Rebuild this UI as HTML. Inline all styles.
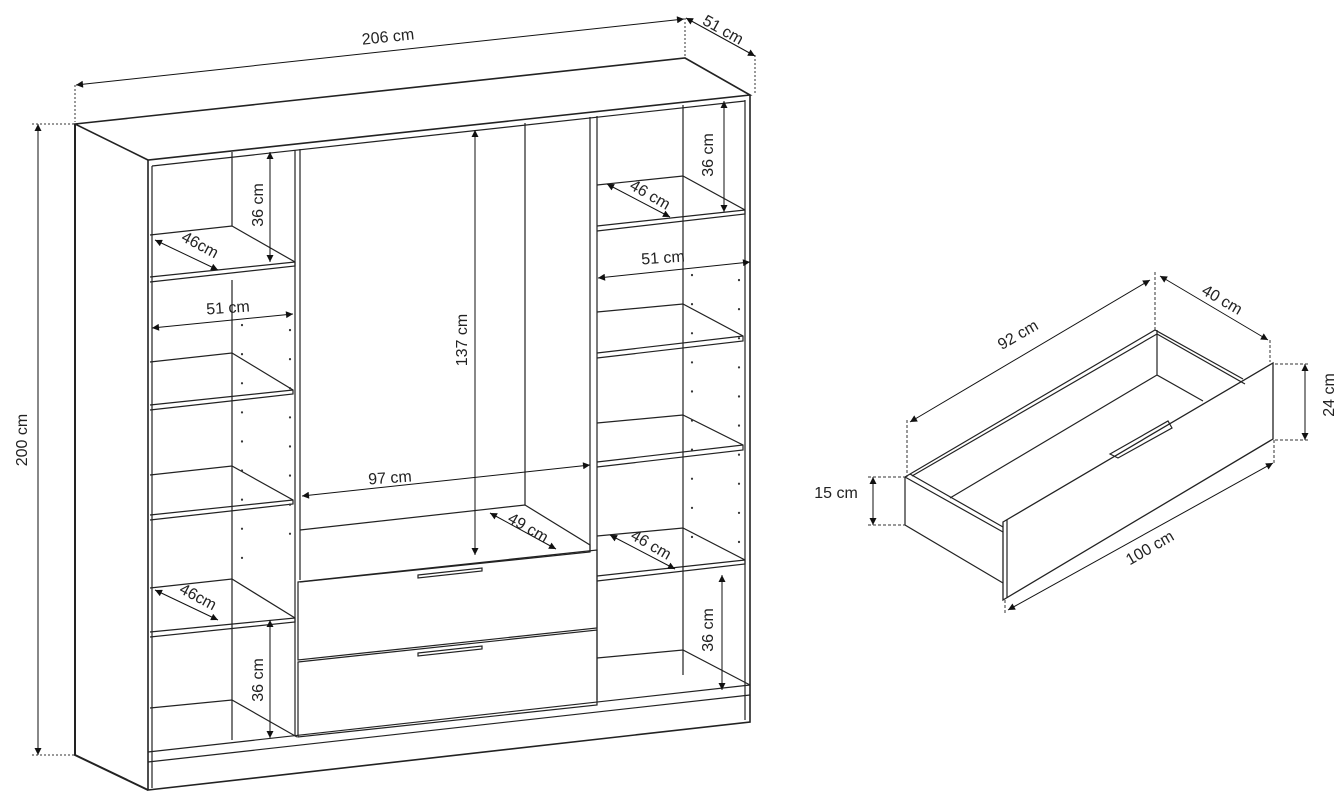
<!DOCTYPE html>
<html><head><meta charset="utf-8"><style>
html,body{margin:0;padding:0;background:#fff;}
svg{display:block;}
text{font-family:"Liberation Sans",sans-serif;font-size:16px;fill:#222;}
</style></head><body>
<svg width="1342" height="797" viewBox="0 0 1342 797" xmlns="http://www.w3.org/2000/svg">
<defs>
<marker id="a" viewBox="0 0 10 10" refX="10" refY="5" markerWidth="10" markerHeight="7" orient="auto-start-reverse" markerUnits="userSpaceOnUse"><path d="M0,0 L10,5 L0,10 z" fill="#111"/></marker>
</defs>
<g stroke="#222" stroke-width="1.2" fill="none">
<path d="M75,124 L685,58 L750,95 L148,160 Z" stroke-width="1.6"/>
<path d="M75,124 L75,755 L148,790" stroke-width="2"/>
<path d="M148,160 L148,790 L750,722 L750,95" stroke-width="1.6"/>
<line x1="745" y1="100" x2="745" y2="720"/>
<line x1="152" y1="166" x2="745" y2="101"/>
<line x1="152" y1="166" x2="152" y2="788"/>
<path d="M148,752 L750,685 M148,762 L750,695"/>
<line x1="295" y1="150" x2="295" y2="735"/>
<line x1="300" y1="149" x2="300" y2="580"/>
<line x1="525" y1="123" x2="525" y2="505"/>
<line x1="590" y1="117" x2="590" y2="552"/>
<line x1="597" y1="116" x2="597" y2="700"/>
<line x1="232" y1="152" x2="232" y2="226"/>
<line x1="232" y1="280" x2="232" y2="740"/>
<line x1="683" y1="105" x2="683" y2="675"/>
<path d="M150,235 L232,226 L295,262 L295,266 L150,282 M150,277 L295,262"/>
<path d="M150,362 L232,353 L293,390 L293,394 L150,410 M150,405 L293,390"/>
<path d="M150,475 L232,466 L293,500 L293,504 L150,520 M150,515 L293,500"/>
<path d="M150,588 L232,579 L295,618 L295,622 L150,637 M150,632 L295,618"/>
<path d="M150,708 L232,700 L297,737"/>
<path d="M597,185 L683,176 L745,210 L745,214 L597,231 M597,226 L745,210"/>
<path d="M597,312 L683,304 L743,336 L743,341 L597,358 M597,353 L743,336"/>
<path d="M597,423 L683,415 L743,445 L743,450 L597,467 M597,462 L743,445"/>
<path d="M597,536 L683,528 L745,560 L745,564 L597,581 M597,576 L745,560"/>
<path d="M597,658 L683,650 L750,685"/>
<path d="M300,530 L525,505 L590,545 L590,552 L300,582"/>
<path d="M298,582 L597,550 L597,628 L298,660 Z"/>
<path d="M298,662 L597,630 L597,705 L298,737 Z"/>
<path d="M418,575 L482,568 L482,571 L418,578 Z"/>
<path d="M418,653 L482,646 L482,649 L418,656 Z"/>
<g stroke="#333" stroke-width="2.2" stroke-linecap="round" stroke-dasharray="0.1 29">
<line x1="242" y1="325" x2="242" y2="560"/><line x1="290" y1="330" x2="290" y2="560"/>
<line x1="692" y1="275" x2="692" y2="560"/><line x1="739" y1="280" x2="739" y2="560"/>
</g>
<g stroke="#111" stroke-width="1">
<line x1="76" y1="85" x2="684" y2="19" marker-start="url(#a)" marker-end="url(#a)"/>
<line x1="686" y1="18" x2="755" y2="56" marker-start="url(#a)" marker-end="url(#a)"/>
<line x1="38" y1="124" x2="38" y2="755" marker-start="url(#a)" marker-end="url(#a)"/>
<line x1="270" y1="152" x2="270" y2="262" marker-start="url(#a)" marker-end="url(#a)"/>
<line x1="155" y1="240" x2="218" y2="270" marker-start="url(#a)" marker-end="url(#a)"/>
<line x1="152" y1="328" x2="293" y2="314" marker-start="url(#a)" marker-end="url(#a)"/>
<line x1="475" y1="130" x2="475" y2="555" marker-start="url(#a)" marker-end="url(#a)"/>
<line x1="302" y1="496" x2="590" y2="465" marker-start="url(#a)" marker-end="url(#a)"/>
<line x1="490" y1="513" x2="556" y2="549" marker-start="url(#a)" marker-end="url(#a)"/>
<line x1="607" y1="184" x2="670" y2="217" marker-start="url(#a)" marker-end="url(#a)"/>
<line x1="724" y1="101" x2="724" y2="212" marker-start="url(#a)" marker-end="url(#a)"/>
<line x1="598" y1="278" x2="750" y2="262" marker-start="url(#a)" marker-end="url(#a)"/>
<line x1="610" y1="535" x2="675" y2="569" marker-start="url(#a)" marker-end="url(#a)"/>
<line x1="722" y1="575" x2="722" y2="690" marker-start="url(#a)" marker-end="url(#a)"/>
<line x1="155" y1="590" x2="218" y2="620" marker-start="url(#a)" marker-end="url(#a)"/>
<line x1="270" y1="620" x2="270" y2="738" marker-start="url(#a)" marker-end="url(#a)"/>
</g>
<g stroke="#333" stroke-width="1" stroke-dasharray="2 2">
<line x1="75" y1="85" x2="75" y2="122"/><line x1="685" y1="18" x2="685" y2="57"/>
<line x1="755" y1="55" x2="755" y2="95"/>
<line x1="32" y1="124" x2="74" y2="124"/><line x1="32" y1="755" x2="74" y2="755"/>
</g>
<!-- drawer -->
<path d="M1003,522 L1273,363 L1273,439 L1003,600 Z" stroke-width="1.3"/>
<line x1="1007" y1="520" x2="1007" y2="598"/>
<path d="M905,477 L905,525 L1003,583"/>
<path d="M905,477 L1155,330 L1243,379"/>
<path d="M905,477 L1003,532 M910,474 L1003,527"/>
<path d="M1157,330 L1157,375 L1203,401 M1157,375 L950,498"/>
<path d="M912,476 L1157,334 M1157,334 L1245,384"/>
<path d="M1110,454 L1168,421 L1172,428 L1118,458 Z"/>
<g stroke="#111" stroke-width="1">
<line x1="910" y1="422" x2="1150" y2="280" marker-start="url(#a)" marker-end="url(#a)"/>
<line x1="1160" y1="276" x2="1268" y2="340" marker-start="url(#a)" marker-end="url(#a)"/>
<line x1="1305" y1="364" x2="1305" y2="440" marker-start="url(#a)" marker-end="url(#a)"/>
<line x1="873" y1="477" x2="873" y2="525" marker-start="url(#a)" marker-end="url(#a)"/>
<line x1="1008" y1="610" x2="1273" y2="463" marker-start="url(#a)" marker-end="url(#a)"/>
</g>
<g stroke="#333" stroke-width="1" stroke-dasharray="3 2">
<line x1="907" y1="420" x2="907" y2="477"/><line x1="1155" y1="272" x2="1155" y2="330"/>
<line x1="1270" y1="340" x2="1270" y2="362"/>
<line x1="1275" y1="364" x2="1310" y2="364"/><line x1="1275" y1="440" x2="1310" y2="440"/>
<line x1="868" y1="477" x2="905" y2="477"/><line x1="868" y1="525" x2="905" y2="525"/>
<line x1="1005" y1="600" x2="1005" y2="615"/><line x1="1274" y1="440" x2="1274" y2="463"/>
</g>
</g>
<text x="388" y="42" text-anchor="middle" transform="rotate(-6 388 37)">206 cm</text>
<text x="723" y="35" text-anchor="middle" transform="rotate(29 723 30)">51 cm</text>
<text x="27" y="440" text-anchor="middle" transform="rotate(-90 27 440)">200 cm</text>
<text x="258" y="210" text-anchor="middle" transform="rotate(-90 258 205)">36 cm</text>
<text x="200" y="250" text-anchor="middle" transform="rotate(28 200 245)">46cm</text>
<text x="228" y="313" text-anchor="middle" transform="rotate(-4 228 308)">51 cm</text>
<text x="462" y="345" text-anchor="middle" transform="rotate(-90 462 340)">137 cm</text>
<text x="390" y="483" text-anchor="middle" transform="rotate(-4 390 478)">97 cm</text>
<text x="528" y="533" text-anchor="middle" transform="rotate(30 528 528)">49 cm</text>
<text x="650" y="200" text-anchor="middle" transform="rotate(30 650 195)">46 cm</text>
<text x="708" y="160" text-anchor="middle" transform="rotate(-90 708 155)">36 cm</text>
<text x="663" y="263" text-anchor="middle" transform="rotate(-4 663 258)">51 cm</text>
<text x="651" y="550" text-anchor="middle" transform="rotate(30 651 545)">46 cm</text>
<text x="708" y="635" text-anchor="middle" transform="rotate(-90 708 630)">36 cm</text>
<text x="198" y="602" text-anchor="middle" transform="rotate(28 198 597)">46cm</text>
<text x="258" y="685" text-anchor="middle" transform="rotate(-90 258 680)">36 cm</text>
<text x="1018" y="340" text-anchor="middle" transform="rotate(-30 1018 335)">92 cm</text>
<text x="1222" y="305" text-anchor="middle" transform="rotate(30 1222 300)">40 cm</text>
<text x="1329" y="400" text-anchor="middle" transform="rotate(-90 1329 395)">24 cm</text>
<text x="836" y="498" text-anchor="middle">15 cm</text>
<text x="1150" y="553" text-anchor="middle" transform="rotate(-30 1150 548)">100 cm</text>
</svg>
</body></html>
